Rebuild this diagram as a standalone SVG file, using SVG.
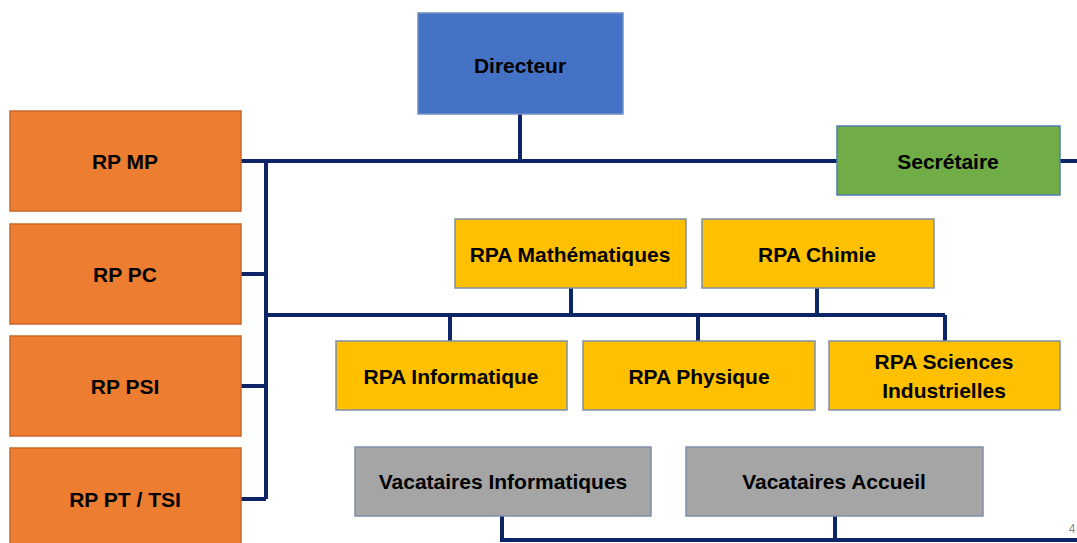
<svg xmlns="http://www.w3.org/2000/svg" width="1077" height="543" viewBox="0 0 1077 543">
<style>
.t{font-family:"Liberation Sans",Arial,sans-serif;font-weight:bold;font-size:21px;fill:#000;text-anchor:middle;dominant-baseline:central}
.c{stroke:#0B2566;stroke-width:4;fill:none}
.or{fill:#ED7D31;stroke:#C8672A;stroke-width:1.5}
.bl{fill:#4472C4;stroke:#6F8FC8;stroke-width:1.5}
.gr{fill:#70AD47;stroke:#4F7FB0;stroke-width:1.5}
.ye{fill:#FFC000;stroke:#7F8FA8;stroke-width:1.5}
.gy{fill:#A5A5A5;stroke:#7F8FA8;stroke-width:1.5}
</style>
<rect width="1077" height="543" fill="#fff"/>
<g id="connectors">
<path class="c" d="M241 161H837M520 114V161M1060 161H1077M266 161V499M241 274H266M241 386H266M241 499H266M266 315H945M571 288V315M817 288V315M450 315V341M698 315V341M945 315V341M502 516V540H1077M835 516V540"/>
</g>
<g id="directeur"><rect class="bl" x="418" y="13" width="205" height="101"/><text class="t" x="520" y="65">Directeur</text></g>
<g id="secretaire"><rect class="gr" x="837" y="126" width="223" height="69"/><text class="t" x="948" y="161">Secrétaire</text></g>
<g id="rp-mp"><rect class="or" x="10" y="111" width="231" height="100"/><text class="t" x="125" y="161">RP MP</text></g>
<g id="rp-pc"><rect class="or" x="10" y="224" width="231" height="100"/><text class="t" x="125" y="274">RP PC</text></g>
<g id="rp-psi"><rect class="or" x="10" y="336" width="231" height="100"/><text class="t" x="125" y="386">RP PSI</text></g>
<g id="rp-pt-tsi"><rect class="or" x="10" y="448" width="231" height="110"/><text class="t" x="125" y="499">RP PT / TSI</text></g>
<g id="rpa-math"><rect class="ye" x="455" y="219" width="231" height="69"/><text class="t" x="570" y="254">RPA Mathématiques</text></g>
<g id="rpa-chimie"><rect class="ye" x="702" y="219" width="232" height="69"/><text class="t" x="817" y="254">RPA Chimie</text></g>
<g id="rpa-info"><rect class="ye" x="336" y="341" width="231" height="69"/><text class="t" x="451" y="376">RPA Informatique</text></g>
<g id="rpa-physique"><rect class="ye" x="583" y="341" width="232" height="69"/><text class="t" x="699" y="376">RPA Physique</text></g>
<g id="rpa-si"><rect class="ye" x="829" y="341" width="231" height="69"/><text class="t" x="944" y="361">RPA Sciences</text><text class="t" x="944" y="390">Industrielles</text></g>
<g id="vac-info"><rect class="gy" x="355" y="447" width="296" height="69"/><text class="t" x="503" y="481">Vacataires Informatiques</text></g>
<g id="vac-accueil"><rect class="gy" x="686" y="447" width="297" height="69"/><text class="t" x="834" y="481">Vacataires Accueil</text></g>
<text x="1072" y="533" font-family="Liberation Sans,Arial,sans-serif" font-size="12" fill="#898989" text-anchor="middle">4</text>
</svg>
